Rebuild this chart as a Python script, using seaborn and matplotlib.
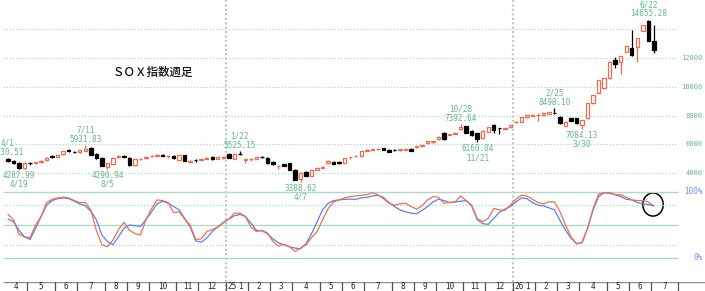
import pandas as pd
import matplotlib
matplotlib.use('Agg')
from matplotlib import pyplot as plt
from matplotlib.patches import Ellipse
import seaborn as sns

sns.set_style('white')
plt.rcParams['font.family'] = ['DejaVu Sans Mono', 'Noto Sans CJK JP']

# weekly candles, week starting Monday 2024-04-01
weeks = pd.date_range('2024-04-01', periods=118, freq='W-MON')

opens = [4950, 4820, 4720, 4330, 4720, 4690, 4750, 4870, 5200, 5100,
         5300, 5580, 5480, 5450, 5560, 5740, 5300, 5040, 4400, 4650,
         5080, 5200, 5030, 4560, 4950, 5020, 5170, 5180, 5280, 5180,
         5180, 4880, 5250, 4790, 4900, 4920, 4990, 5100, 4980, 5060,
         5320, 5000, 5330, 4920, 4950, 4990, 5130, 5060, 4790, 4480,
         4600, 4670, 4210, 3560, 4070, 3800, 4210, 4350, 4720, 4790,
         4790, 4720, 5080, 5150, 5200, 5540, 5600, 5650, 5720, 5600,
         5620, 5600, 5600, 5700, 5790, 5900, 6070, 6150, 6350, 6800,
         6650, 6700, 7040, 7270, 6940, 6760, 6410, 6870, 7340, 7130,
         7080, 7180, 7520, 7570, 7870, 8000, 8030, 8030, 8130, 8200,
         7920, 7300, 7800, 7800, 7340, 7800, 8850, 9590, 9890, 10590,
         11860, 11740, 12440, 12680, 12790, 13900, 14600, 13200]
closes = [4820, 4720, 4330, 4700, 4680, 4740, 4840, 5060, 5080, 5220,
          5530, 5520, 5440, 5570, 5680, 5280, 5050, 4520, 4700, 5070,
          5170, 5120, 4550, 4980, 5000, 5130, 5180, 5260, 5190, 5190,
          5040, 5250, 4860, 4860, 4880, 4980, 5050, 4950, 5080, 5110,
          5060, 5330, 5300, 4950, 4980, 5080, 5100, 4680, 4600, 4500,
          4500, 4220, 3520, 4000, 3810, 4220, 4370, 4440, 4860, 4660,
          4680, 5020, 5090, 5200, 5530, 5600, 5650, 5700, 5620, 5480,
          5580, 5650, 5700, 5560, 5880, 5950, 6230, 6200, 6530, 6350,
          6710, 6800, 7220, 6800, 6640, 6350, 6940, 7180, 6990, 7100,
          7110, 7340, 7570, 7900, 8030, 8050, 8060, 8200, 8210, 8150,
          7450, 7570, 7640, 7450, 7690, 8850, 9430, 10470, 10590, 11740,
          11560, 12140, 12820, 12210, 13370, 14300, 13200, 12560]
highs = [5030.51, 4880, 4760, 4760, 4800, 4780, 4880, 5080, 5260, 5260,
         5560, 5680, 5520, 5600, 5931.83, 5780, 5400, 5080, 4720, 5100,
         5220, 5240, 5080, 5000, 5060, 5160, 5250, 5300, 5340, 5230,
         5220, 5280, 5280, 4900, 4940, 5000, 5080, 5150, 5120, 5160,
         5360, 5360, 5525.15, 4980, 5020, 5100, 5200, 5100, 4820, 4520,
         4640, 4700, 4250, 4060, 4120, 4240, 4400, 4460, 4880, 4820,
         4820, 5040, 5120, 5230, 5560, 5640, 5680, 5730, 5760, 5640,
         5660, 5700, 5720, 5740, 5900, 5980, 6250, 6240, 6560, 6850,
         6740, 6820, 7392.64, 7300, 6980, 6800, 6960, 7200, 7420, 7150,
         7150, 7360, 7600, 7920, 8050, 8080, 8180, 8220, 8250, 8498.10,
         7980, 7600, 7850, 7850, 7700, 8900, 9450, 10500, 10620, 11760,
         12100, 12160, 12900, 13950, 13400, 14320, 14655.28, 14300]
lows = [4780, 4650, 4287.99, 4300, 4550, 4650, 4720, 4850, 5040, 5080,
        5280, 5480, 5380, 5420, 5540, 5220, 4980, 4480, 4290.94, 4620,
        5050, 5080, 4500, 4520, 4900, 4990, 5100, 5150, 5150, 5060,
        5000, 4850, 4830, 4760, 4760, 4880, 4950, 4880, 4950, 5000,
        5030, 4980, 5250, 4700, 4850, 4960, 5050, 4640, 4580, 4300,
        4480, 4200, 3480, 3388.62, 3780, 3760, 4180, 4320, 4700, 4640,
        4640, 4700, 4950, 5120, 5180, 5520, 5580, 5620, 5600, 5460,
        5540, 5560, 5580, 5540, 5760, 5880, 6040, 6100, 6320, 6300,
        6620, 6680, 7000, 6760, 6600, 6160.04, 6380, 6850, 6800, 6700,
        7050, 7160, 7480, 7550, 7850, 7980, 7600, 8000, 8100, 8100,
        7420, 7280, 7620, 7420, 7084.13, 7780, 8800, 9560, 9850, 10550,
        11300, 10890, 12400, 12150, 11740, 13880, 13150, 12330]

# stochastics (%K red, %D blue)
stoch_k = [66, 58, 36, 32, 31, 50, 63, 84, 89, 91,
           92, 91, 87, 84, 84, 73, 42, 20, 17, 27,
           43, 54, 42, 37, 35, 58, 75, 88, 87, 84,
           69, 70, 59, 50, 28, 29, 40, 43, 47, 53,
           59, 68, 68, 63, 47, 40, 42, 38, 25, 18,
           21, 17, 10, 15, 20, 31, 40, 58, 75, 85,
           88, 91, 93, 94, 95, 96, 99, 96, 90, 83,
           80, 82, 83, 78, 74, 79, 88, 93, 92, 83,
           84, 85, 94, 87, 80, 60, 55, 60, 75, 73,
           72, 80, 89, 95, 94, 89, 84, 82, 85, 85,
           70, 50, 32, 21, 24, 45, 75, 97, 99, 99,
           96, 96, 92, 88, 87, 87, 85, 79]
stoch_d = [59, 55, 42, 32, 28, 45, 63, 80, 87, 90,
           91, 90, 86, 82, 79, 71, 58, 35, 25, 20,
           32, 45, 50, 49, 48, 58, 70, 82, 86, 83,
           78, 73, 60, 47, 26, 24, 30, 40, 47, 54,
           59, 64, 66, 63, 53, 42, 41, 37, 29, 23,
           20, 17, 15, 14, 22, 37, 55, 73, 83, 87,
           88, 89, 89, 89, 91, 92, 94, 95, 92, 84,
           78, 73, 70, 68, 67, 72, 78, 85, 89, 87,
           84, 85, 86, 87, 79, 58, 52, 51, 60, 69,
           74, 78, 85, 91, 90, 84, 80, 79, 76, 73,
           57, 42, 30, 22, 23, 45, 73, 93, 99, 98,
           96, 93, 89, 88, 84, 82, 81, 79]

# high / low markers
mark_dates = ['2024-04-01', '2024-04-19', '2024-07-11', '2024-08-05', '2025-01-22', '2025-04-07',
              '2025-10-28', '2025-11-21', '2026-02-25', '2026-03-30', '2026-06-22']
mark_values = [5030.51, 4287.99, 5931.83, 4290.94, 5525.15, 3388.62,
               7392.64, 6160.04, 8498.10, 7084.13, 14655.28]
mark_kind = ['high', 'low', 'high', 'low', 'high', 'low', 'high', 'low', 'high', 'low', 'high']

price_grid = [4000, 6000, 8000, 10000, 12000, 14000]
price_labels = [4000, 6000, 8000, 10000, 12000]
title = 'ＳＯＸ指数週足'

UP = '#f06a4c'
DOWN = '#000000'
GREEN_TXT = '#5fb88a'
GRID = '#a9dcc4'
BLUE_TXT = '#6f8ff0'

W, H = 705, 291
n = len(weeks)
idx = list(range(n))
px_per_week = 5.52
first_px = 8
xlim = (-first_px / px_per_week, (W - first_px) / px_per_week)
x_end = 121.4   # right edge of the chart area (4 empty weeks)
x_start = -0.9

fig = plt.figure(figsize=(W / 100, H / 100), dpi=100)


def band(top, bottom):
    a = fig.add_axes([0, 1 - bottom / H, 1, (bottom - top) / H])
    a.set_xlim(xlim)
    a.patch.set_alpha(0)
    a.axis('off')
    return a


# month of each week = middle trading day (Jan 1 skipped)
months, years = [], []
for d in weeks:
    days = [d + pd.Timedelta(days=k) for k in range(5)]
    days = [x for x in days if not (x.month == 1 and x.day == 1)]
    mid = days[(len(days) - 1) // 2]
    months.append(mid.month)
    years.append(mid.year)
bounds = [i - 0.5 for i in range(1, n) if months[i] != months[i - 1]]
year_bounds = [i - 0.5 for i in range(1, n) if years[i] != years[i - 1]]
edges = [-0.5] + bounds + [x_end]

# background: year separators
bg = band(0, H)
bg.set_ylim(0, 1)
for b in year_bounds:
    bg.axvline(b, color='#c8c8c8', lw=1.6, ls=(0, (1, 1)))

# price panel
ax = band(0, 200)
ax.set_ylim(2122, 16035)
ax.hlines(price_grid, x_start, x_end, colors=GRID, lw=0.9, linestyles=(0, (1, 1.5)))
for i in idx:
    o, h, l, c = opens[i], highs[i], lows[i], closes[i]
    col = UP if c >= o else DOWN
    ax.vlines(i, l, h, color=col, lw=0.9, zorder=2)
    ax.bar(i, max(abs(c - o), 15), bottom=min(o, c), width=0.62,
           facecolor='white' if c >= o else DOWN, edgecolor=col, lw=0.9, zorder=3)
for p in price_labels:
    ax.text(125.8, p, str(p), ha='right', va='center', fontsize=5, color=GREEN_TXT)
ax.text(113 / W, 1 - 72 / 200, title, transform=ax.transAxes, ha='left', va='center',
        fontsize=8.3, family=['Noto Sans CJK JP'], fontweight='medium', color='#111111')

start = weeks[0]
for ds, v, kind in zip(mark_dates, mark_values, mark_kind):
    d = pd.Timestamp(ds)
    i = (d - start).days // 7
    lab = f'{d.month}/{d.day}'
    val = f'{v:.2f}'
    if kind == 'high':
        ax.annotate(val, (i, v), xytext=(0, 1.0), textcoords='offset points',
                    ha='center', va='bottom', fontsize=5.5, color=GREEN_TXT)
        ax.annotate(lab, (i, v), xytext=(0, 7.6), textcoords='offset points',
                    ha='center', va='bottom', fontsize=5.5, color=GREEN_TXT)
    else:
        ax.annotate(val, (i, v), xytext=(0, -1.4), textcoords='offset points',
                    ha='center', va='top', fontsize=5.5, color=GREEN_TXT)
        ax.annotate(lab, (i, v), xytext=(0, -8.0), textcoords='offset points',
                    ha='center', va='top', fontsize=5.5, color=GREEN_TXT)

# stochastics panel
axs = band(185, 270)
axs.set_ylim(-18.2, 110.6)
axs.hlines([0, 50, 100], x_start, x_end, colors=GRID, lw=1.0)
axs.hlines([20, 80], x_start, x_end, colors=GRID, lw=0.9, linestyles=(0, (1, 1.5)))
df = pd.DataFrame({'week': idx, 'k': stoch_k, 'd': stoch_d})
sns.lineplot(data=df, x='week', y='d', color='#5b7ff0', lw=0.9, ax=axs)
sns.lineplot(data=df, x='week', y='k', color='#f07050', lw=0.9, ax=axs)
axs.axis('off')
axs.set_xlim(xlim)
axs.text(125.8, 100, '100%', ha='right', va='center', fontsize=5.5, color=BLUE_TXT)
axs.text(125.8, 0, '0%', ha='right', va='center', fontsize=5.5, color=BLUE_TXT)
axs.add_patch(Ellipse((n - 1.15, stoch_k[-1] + 2), 3.7, 35, fill=False, edgecolor='black', lw=1.1))

# month band
axm = band(281.5, H)
axm.set_ylim(0, 1)
axm.hlines(1, x_start, xlim[1], colors='#8c8c8c', lw=1.0)
axm.vlines(bounds + [x_end], 0, 1, colors='#505050', lw=0.9)
for a, b in zip(edges[:-1], edges[1:]):
    k = int(a + 0.5)
    m = months[k]
    cx = (a + b) / 2
    if m == 1 and a in year_bounds:
        axm.text(a + 0.25, 0.45, str(years[k] % 100), ha='left', va='center', fontsize=5.5, color='#222222')
        cx += 0.6
    axm.text(cx, 0.45, str(m), ha='center', va='center', fontsize=5.5, color='#222222')

plt.savefig('out.png', dpi=100)
plt.close()
